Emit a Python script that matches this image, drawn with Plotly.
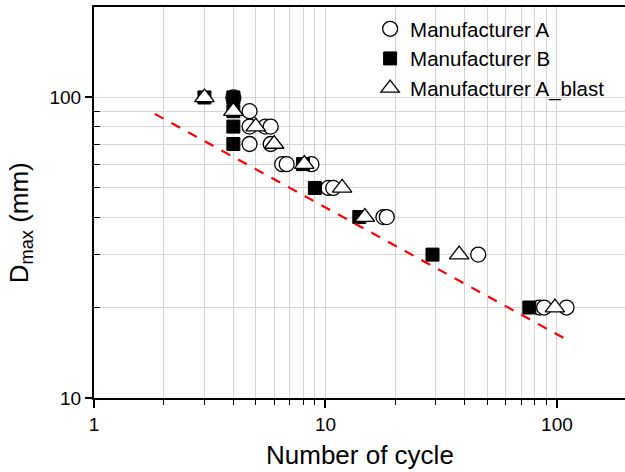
import plotly.graph_objects as go

# Data
a_x = [4, 4.7, 4.7, 4.7, 5.5, 5.8, 5.8, 6.5, 6.8, 8.7, 10.3, 10.8, 17.8, 18.4, 45.7, 84, 88, 110]
a_y = [100, 90, 80, 70, 80, 80, 70, 60, 60, 60, 50, 50, 40, 40, 30, 20, 20, 20]

b_x = [3, 4, 4, 4, 4, 8, 9, 14, 29, 76]
b_y = [100, 100, 90, 80, 70, 60, 50, 40, 30, 20]

blast_x = [3, 4, 5, 6, 8.1, 11.8, 14.8, 37.8, 98]
blast_y = [100, 90, 80, 70, 60, 50, 40, 30, 20]

fit_x = [1.83, 110]
fit_y = [88.2, 15.65]

x_major = [1, 10, 100]
x_minor = [2, 3, 4, 5, 6, 7, 8, 9, 20, 30, 40, 50, 60, 70, 80, 90]
y_major = [10, 100]
y_minor = [20, 30, 40, 50, 60, 70, 80, 90, 200]

FONT = "Arial, Liberation Sans, sans-serif"

fig = go.Figure()
fig.add_trace(go.Scatter(
    x=a_x, y=a_y, mode="markers", name="Manufacturer A",
    marker=dict(symbol="circle", size=15, color="white", line=dict(color="black", width=1.3)),
))
fig.add_trace(go.Scatter(
    x=b_x, y=b_y, mode="markers", name="Manufacturer B",
    marker=dict(symbol="square", size=13, color="black", line=dict(color="black", width=1)),
))
fig.add_trace(go.Scatter(
    x=blast_x, y=blast_y, mode="markers", name="Manufacturer A_blast",
    marker=dict(symbol="triangle-up", size=17, color="white", line=dict(color="black", width=1.3)),
))
fig.add_trace(go.Scatter(
    x=fit_x, y=fit_y, mode="lines", showlegend=False,
    line=dict(color="red", width=2.2, dash="10px,9px"),
))

grid_col = "#d3d3d3"
fig.update_xaxes(
    type="log", range=[0, 2.294],
    tickmode="array", tickvals=x_major, ticktext=[str(v) for v in x_major],
    ticks="outside", ticklen=8, tickwidth=1.5, tickcolor="black",
    showline=True, linecolor="black", linewidth=2, mirror=True,
    showgrid=True, gridcolor=grid_col, gridwidth=1.2,
    tickfont=dict(family=FONT, size=19, color="black"),
    minor=dict(tickmode="array", tickvals=x_minor, ticks="outside", ticklen=5, tickwidth=1.2,
               tickcolor="black", showgrid=True, gridcolor=grid_col, gridwidth=1.2),
    zeroline=False,
)
fig.update_yaxes(
    type="log", range=[1, 2.301],
    tickmode="array", tickvals=y_major, ticktext=[str(v) for v in y_major],
    ticks="outside", ticklen=7, tickwidth=1.5, tickcolor="black",
    showline=True, linecolor="black", linewidth=2, mirror=False,
    showgrid=True, gridcolor=grid_col, gridwidth=1.2,
    tickfont=dict(family=FONT, size=19, color="black"),
    minor=dict(tickmode="array", tickvals=y_minor, ticks="inside", ticklen=6, tickwidth=1.2,
               tickcolor="black", showgrid=True, gridcolor=grid_col, gridwidth=1.2),
    zeroline=False,
)

fig.add_annotation(
    text="Number of cycle", xref="paper", yref="paper", x=0.5, y=0,
    xanchor="center", yanchor="top", yshift=-40, showarrow=False,
    font=dict(family=FONT, size=26, color="black"),
)
fig.add_annotation(
    text="D<sub>max</sub> (mm)", xref="paper", yref="paper", x=0, y=0.447,
    xanchor="center", yanchor="middle", xshift=-74, textangle=-90, showarrow=False,
    font=dict(family=FONT, size=26, color="black"),
)

fig.update_layout(
    width=625, height=472,
    margin=dict(l=94, r=0, t=7, b=74),
    paper_bgcolor="white", plot_bgcolor="white",
    font=dict(family=FONT, color="black"),
    legend=dict(x=0.52, y=0.995, xanchor="left", yanchor="top",
                bgcolor="rgba(0,0,0,0)", font=dict(family=FONT, size=20.5, color="black"),
                tracegroupgap=0, itemwidth=30),
    showlegend=True,
)

fig.write_html("out.html")
